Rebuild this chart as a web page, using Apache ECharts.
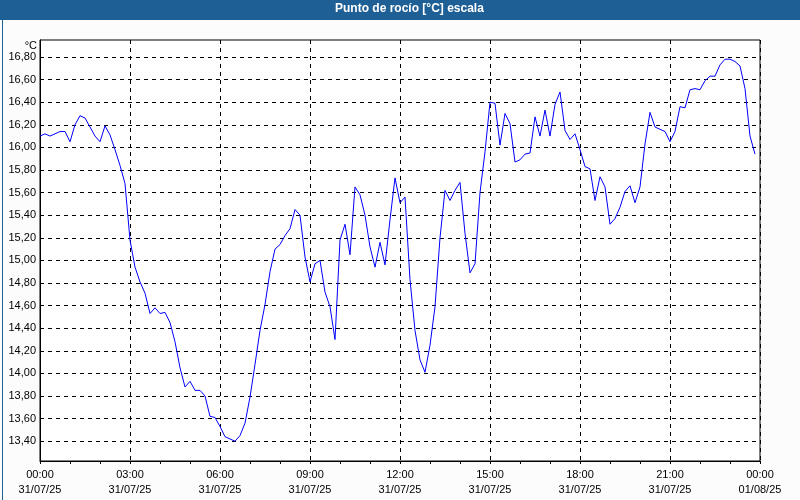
<!DOCTYPE html>
<html><head><meta charset="utf-8">
<script src="https://cdn.jsdelivr.net/npm/echarts@6/dist/echarts.min.js"></script>
<style>html,body{margin:0;padding:0;background:#fcfcfc}#c{width:800px;height:500px}</style>
</head><body><div id="c"></div>
<script>
const titleText = 'Punto de rocío [°C] escala';
const unitText = '°C';
const startDate = '31/07/25';
const endDate = '01/08/25';
const sampleMinutes = 10;
// dew point every 10 minutes, 00:00 .. 23:50
const dewPoint = [
16.10,16.12,16.10,16.12,16.14,16.14,16.05,16.20,16.28,16.26,16.18,16.10,
16.05,16.19,16.11,15.98,15.84,15.68,15.18,14.94,14.81,14.71,14.53,14.58,
14.53,14.54,14.45,14.28,14.05,13.88,13.93,13.85,13.85,13.80,13.62,13.61,
13.53,13.44,13.42,13.40,13.45,13.56,13.79,14.08,14.38,14.61,14.90,15.10,
15.14,15.22,15.28,15.45,15.40,15.03,14.81,14.97,15.00,14.72,14.59,14.30,
15.18,15.32,15.05,15.65,15.58,15.40,15.12,14.94,15.16,14.96,15.36,15.73,
15.51,15.56,14.83,14.38,14.12,14.01,14.25,14.59,15.20,15.62,15.53,15.62,
15.69,15.24,14.89,14.97,15.60,15.96,16.40,16.39,16.02,16.30,16.21,15.87,
15.89,15.94,15.95,16.27,16.10,16.33,16.10,16.38,16.49,16.15,16.07,16.12,
15.98,15.83,15.81,15.53,15.74,15.65,15.32,15.37,15.47,15.61,15.66,15.51,
15.65,16.03,16.31,16.18,16.16,16.14,16.05,16.14,16.36,16.35,16.51,16.52,
16.51,16.59,16.63,16.63,16.73,16.78,16.78,16.76,16.72,16.52,16.10,15.94
];
const yTicks = [13.4,13.6,13.8,14.0,14.2,14.4,14.6,14.8,15.0,15.2,15.4,15.6,15.8,16.0,16.2,16.4,16.6,16.8];
const yMin = 13.225, yMax = 16.95;
const xMin = 0, xMax = 24;

const points = dewPoint.map((v, i) => [i * sampleMinutes / 60, v]);
const font = "'Liberation Sans', Arial, sans-serif";
const chart = echarts.init(document.getElementById('c'), null, {renderer: 'canvas'});
chart.setOption({
  animation: false,
  backgroundColor: '#fcfcfc',
  textStyle: {fontFamily: font},
  grid: {left: 40, right: 40, top: 40, bottom: 39, show: true, borderColor: '#000', borderWidth: 1, backgroundColor: '#ffffff'},
  graphic: [
    {type: 'rect', left: 0, top: 0, shape: {width: 800, height: 20}, style: {fill: '#1e5f96'}, z: 10},
    {type: 'text', left: 335, top: 3, style: {text: titleText, fill: '#ffffff', font: 'bold 12px ' + font}, z: 11},
    {type: 'rect', left: 0, top: 0, shape: {x: 0.5, y: 0.5, width: 799, height: 499}, style: {fill: 'none', stroke: '#1e5f96', lineWidth: 1}, z: 10}
  ],
  xAxis: [
    {
      type: 'value', min: xMin, max: xMax, interval: 1,
      axisLine: {lineStyle: {color: '#000', width: 1}},
      axisTick: {show: true, length: 3, lineStyle: {color: '#000'}},
      splitLine: {show: false},
      axisLabel: {
        color: '#000', fontSize: 11, fontFamily: font, margin: 6, lineHeight: 15,
        formatter: v => {
          if (v % 3 !== 0) return '';
          const h = v % 24;
          return String(h).padStart(2, '0') + ':00\n' + (v >= 24 ? endDate : startDate);
        }
      }
    },
    {
      type: 'value', min: xMin, max: xMax, interval: 3,
      axisLine: {show: false}, axisTick: {show: false}, axisLabel: {show: false},
      splitLine: {show: true, lineStyle: {color: '#000', type: [4, 4], width: 1}}
    }
  ],
  yAxis: {
    type: 'value', min: yMin, max: yMax,
    name: unitText, nameLocation: 'end', nameGap: 0,
    nameTextStyle: {color: '#000', fontSize: 11, fontFamily: font, align: 'right', verticalAlign: 'top', padding: [2, 3, 0, 0]},
    axisLine: {show: true, lineStyle: {color: '#000'}},
    axisTick: {show: false, customValues: yTicks},
    splitLine: {show: true, lineStyle: {color: '#000', type: [4, 4], width: 1}},
    axisLabel: {customValues: yTicks, color: '#000', fontSize: 11, fontFamily: font, margin: 4,
      formatter: v => v.toFixed(2).replace('.', ',')}
  },
  series: [{
    type: 'line', data: points, xAxisIndex: 0, showSymbol: false, symbol: 'none',
    lineStyle: {color: '#0000ff', width: 1}, z: 5
  }]
});
</script></body></html>
